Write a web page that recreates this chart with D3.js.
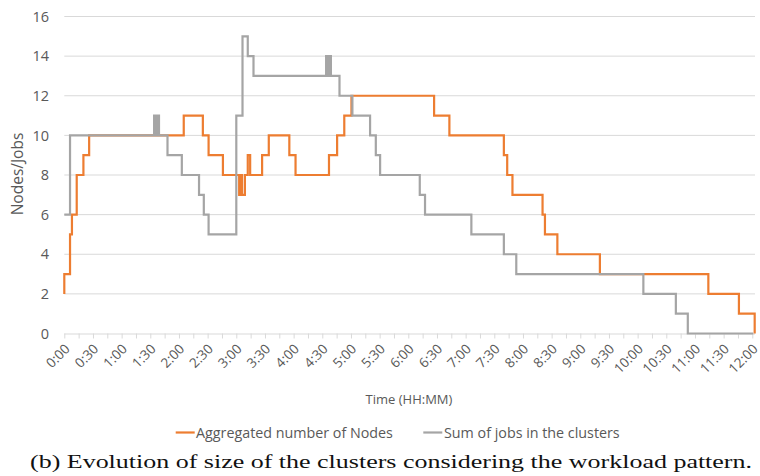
<!DOCTYPE html>
<html>
<head>
<meta charset="utf-8">
<script src="https://cdn.jsdelivr.net/npm/d3@7/dist/d3.min.js"></script>
<style>
  html, body { margin: 0; padding: 0; background: #fff; }
  svg { display: block; }
</style>
</head>
<body>
<svg id="chart" width="760" height="476"></svg>
<script>
// ---- Data (time in minutes since 0:00, step-after changes) ----
const tickLabels = ["0:00","0:30","1:00","1:30","2:00","2:30","3:00","3:30","4:00","4:30","5:00","5:30",
  "6:00","6:30","7:00","7:30","8:00","8:30","9:00","9:30","10:00","10:30","11:00","11:30","12:00"];
const yTicks = [0, 2, 4, 6, 8, 10, 12, 14, 16];

const nodesTime = [0,0,6,8,13,20,26,125,145,151,166,183,185,186,189,192,194.5,207,214,235.5,242,277,285.5,293,300.5,387,403,460,463.5,469,500.5,503,516,560.5,674,706,722.5];
const nodesVal  = [2,3,5,6,8,9,10,11,10,9,8,7,8,7,8,9,8,9,10,9,8,9,10,11,12,11,10,9,8,7,6,5,4,3,2,1,0];

const jobsTime = [0,6,94,95.6,97.3,99.1,108,123,141,146,151,180,186.5,192,198,274,275.7,277.4,279,288,301.5,320,326,330.5,372,377.5,426,460,473,606,640,652.5,721];
const jobsVal  = [6,10,11,10,11,10,9,8,7,6,5,11,15,14,13,14,13,14,13,12,11,10,9,8,7,6,5,4,3,2,1,0,0];

const seriesNames = ["Aggregated number of Nodes", "Sum of jobs in the clusters"];
const seriesColors = ["#ED7D31", "#A5A5A5"];
const xTitle = "Time (HH:MM)";
const yTitle = "Nodes/Jobs";
const caption = "(b) Evolution of size of the clusters considering the workload pattern.";

// ---- Layout ----
const svg = d3.select("#chart");
const x0 = 64.3, x1 = 752.3, yBottom = 333.5, yTop = 16.5;
const x = d3.scaleLinear().domain([0, 720]).range([x0, x1]);
const y = d3.scaleLinear().domain([0, 16]).range([yBottom, yTop]);
const textColor = "#595959";
const font = "'Open Sans', sans-serif";

// gridlines
svg.append("g").selectAll("line").data(yTicks.filter(d => d > 0)).join("line")
  .attr("x1", x0).attr("x2", 755).attr("y1", d => y(d)).attr("y2", d => y(d))
  .attr("stroke", "#d9d9d9").attr("stroke-width", 1);

// y labels
svg.append("g").selectAll("text").data(yTicks).join("text")
  .attr("x", 49).attr("y", d => y(d)).attr("dy", "0.36em")
  .attr("text-anchor", "end").attr("font-family", font).attr("font-size", 14.5)
  .attr("fill", textColor).text(d => d);

// x axis
const minorTicks = d3.range(0, 721, 15);
const xAxis = d3.axisBottom(x).tickValues(minorTicks).tickSize(5).tickFormat("");
const gx = svg.append("g").attr("transform", `translate(0,${yBottom})`).call(xAxis);
gx.select(".domain").attr("stroke", "#d9d9d9").attr("d", `M${x0},0.5H755`);
gx.selectAll(".tick line").attr("stroke", "#d9d9d9");

svg.append("g").selectAll("text").data(tickLabels).join("text")
  .attr("transform", (d, i) => `translate(${x(i * 30) + 3},${yBottom + 13}) rotate(-45)`)
  .attr("text-anchor", "end").attr("dy", "0.35em")
  .attr("font-family", font).attr("font-size", 13.5).attr("fill", textColor)
  .text(d => d);

// titles
svg.append("text").attr("x", 409).attr("y", 399).attr("dy", "0.35em")
  .attr("text-anchor", "middle").attr("font-family", font).attr("font-size", 13)
  .attr("fill", textColor).text(xTitle);
svg.append("text").attr("transform", "translate(18,174) rotate(-90)").attr("dy", "0.35em")
  .attr("text-anchor", "middle").attr("font-family", font).attr("font-size", 15.5)
  .attr("fill", textColor).text(yTitle);

// lines
const line = d3.line().curve(d3.curveStepAfter).x(d => x(d[0])).y(d => y(d[1]));
const nodesData = nodesTime.map((t, i) => [t, nodesVal[i]]);
const jobsData = jobsTime.map((t, i) => [t, jobsVal[i]]);
svg.append("path").datum(nodesData).attr("d", line).attr("fill", "none")
  .attr("stroke", seriesColors[0]).attr("stroke-width", 2.2).attr("stroke-linejoin", "miter");
svg.append("path").datum(jobsData).attr("d", line).attr("fill", "none")
  .attr("stroke", seriesColors[1]).attr("stroke-width", 2.2).attr("stroke-linejoin", "miter");

// legend
const legendItems = [{x: 175.7, tx: 196}, {x: 423.3, tx: 444}];
legendItems.forEach((it, i) => {
  svg.append("line").attr("x1", it.x).attr("x2", it.x + 19).attr("y1", 432.5).attr("y2", 432.5)
    .attr("stroke", seriesColors[i]).attr("stroke-width", 2.2);
  svg.append("text").attr("x", it.tx).attr("y", 432.5).attr("dy", "0.35em")
    .attr("font-family", font).attr("font-size", 14.3).attr("fill", textColor).text(seriesNames[i]);
});

// caption
svg.append("text").attr("x", 30).attr("y", 468)
  .attr("font-family", "'Liberation Serif', 'DejaVu Serif', serif").attr("font-size", 19.5)
  .attr("fill", "#111").attr("textLength", 722).attr("lengthAdjust", "spacingAndGlyphs")
  .text(caption);
</script>
</body>
</html>
